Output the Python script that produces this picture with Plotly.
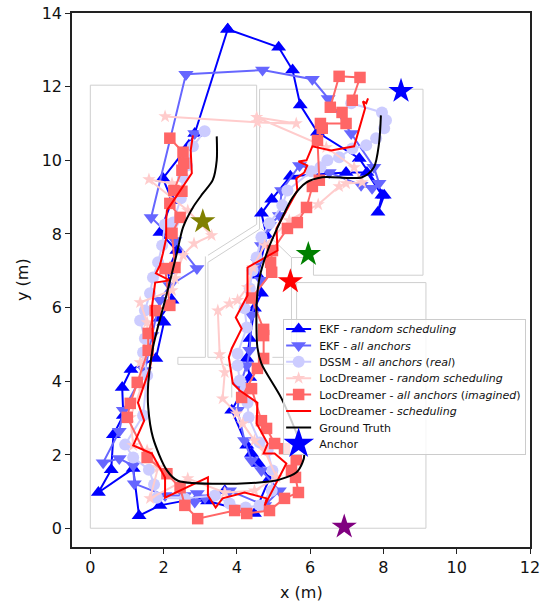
import plotly.graph_objects as go

ekf_random = [(3.75,13.56),(2.85,10.73),(2.69,10.41),(1.98,9.51),(2.23,8.91),(1.90,8.04),(2.36,7.55),(2.12,7.01),(2.23,6.20),(1.90,5.71),(2.01,5.60),(1.79,4.62),(1.11,4.32),(0.87,3.83),(0.90,3.07),(0.63,2.55),(0.57,1.60),(0.22,0.98),(1.17,1.63),(1.33,0.35),(1.90,0.63),(2.91,0.82),(3.67,1.03),(3.20,0.75),(4.48,0.41),(4.89,1.36),(4.59,1.77),(4.40,2.04),(4.27,2.26),(3.86,3.21),(4.35,4.10),(4.27,4.62),(4.35,5.16),(4.48,5.98),(4.67,6.39),(4.57,6.88),(4.81,7.96),(4.67,8.56),(4.95,8.94),(5.46,9.57),(6.98,9.67),(7.55,9.67),(7.96,9.05),(7.85,8.59),(8.02,9.05),(7.34,10.05),(6.20,10.76),(5.73,11.50),(5.52,12.45),(5.14,13.07),(3.75,13.56)]
ekf_all = [(2.61,12.34),(4.70,12.45),(6.06,12.20),(6.49,11.68),(7.12,10.73),(7.74,9.81),(7.88,9.38),(7.69,9.24),(7.39,9.32),(6.52,9.67),(5.71,9.86),(5.22,9.18),(5.16,8.50),(4.89,8.23),(4.67,7.69),(4.57,7.23),(4.67,6.74),(4.40,5.79),(4.35,4.84),(4.27,4.43),(4.08,3.89),(4.02,3.21),(4.21,2.39),(4.40,1.85),(4.67,1.58),(5.16,1.03),(4.76,0.63),(3.80,1.03),(3.13,0.84),(2.92,0.95),(2.85,0.72),(2.58,0.90),(2.04,0.90),(1.20,1.22),(1.17,1.71),(0.79,1.90),(0.35,1.79),(0.79,2.64),(0.90,3.21),(1.49,4.29),(1.68,5.24),(1.90,6.20),(2.17,6.60),(2.91,7.06),(2.31,7.82),(1.66,8.45),(2.61,12.34)]
ekf_all_extra = [(2.85,10.73)]
dssm = [(3.12,10.79),(2.80,10.38),(2.64,9.86),(2.53,9.54),(2.47,8.97),(2.26,8.31),(2.04,8.26),(1.96,7.69),(1.85,7.23),(1.71,6.82),(1.63,6.39),(1.49,5.92),(1.36,5.65),(1.49,5.16),(1.44,4.78),(1.55,4.16),(1.44,3.07),(0.95,2.28),(1.17,1.93),(1.60,1.60),(1.74,1.20),(1.82,0.84),(2.58,0.82),(3.40,0.90),(3.80,0.68),(4.24,0.57),(4.62,0.63),(4.95,1.03),(4.97,1.58),(4.84,2.12),(4.62,2.34),(4.32,3.02),(4.29,3.42),(4.24,3.80),(4.08,4.02),(4.02,4.43),(4.02,4.75),(4.27,5.46),(4.21,5.98),(4.35,6.52),(4.43,7.01),(4.54,7.36),(4.67,7.91),(4.89,8.29),(5.24,8.78),(5.38,9.18),(6.03,9.70),(6.28,9.81),(6.47,10.00),(6.79,10.08),(7.15,10.32),(7.53,10.41),(7.80,10.60),(8.02,10.87),(8.07,11.09),(7.96,11.30),(7.12,11.55)]
loc_random = [(2.23,9.37),(1.60,9.48),(2.66,8.64),(3.31,7.96),(2.83,7.74),(2.53,7.42),(2.31,6.79),(2.23,6.47),(1.36,6.14),(1.55,5.60),(1.58,4.84),(1.36,4.51),(1.41,3.89),(1.09,3.02),(1.17,2.26),(1.55,2.12),(1.85,1.66),(1.63,0.82),(2.66,1.36),(3.67,0.98),(4.48,1.03),(5.08,1.39),(4.76,2.12),(4.48,2.39),(4.16,2.85),(3.99,3.12),(3.61,3.53),(3.67,4.24),(3.53,4.73),(3.48,5.92),(3.80,6.11),(4.02,6.20),(4.29,6.55),(4.43,7.09),(4.76,7.69),(5.43,8.37),(6.22,8.80),(6.79,9.29),(6.98,9.37),(7.42,9.40),(7.20,9.81),(6.44,10.35),(4.54,11.17),(5.62,11.00),(4.56,11.03),(2.04,11.19)]
loc_all = [(2.17,10.60),(2.53,10.22),(2.55,9.92),(2.50,9.73),(2.28,9.18),(2.50,9.16),(2.17,8.83),(2.45,8.45),(2.23,8.02),(2.31,7.09),(2.04,7.06),(2.17,6.06),(1.77,5.92),(1.58,5.30),(1.58,4.84),(1.28,3.97),(1.09,3.40),(1.01,3.02),(1.55,1.93),(2.09,1.49),(2.45,1.11),(2.58,0.63),(2.93,0.27),(3.94,0.49),(4.27,0.41),(4.89,0.49),(5.30,0.82),(5.68,0.98),(5.60,1.39),(5.49,1.58),(5.62,1.87),(5.30,2.17),(5.03,2.31),(4.81,2.72),(4.67,2.93),(4.40,3.80),(4.13,3.56),(4.56,4.35),(4.73,4.62),(4.73,5.24),(4.73,5.41),(4.40,6.26),(4.95,6.96),(4.92,7.23),(4.97,7.55),(5.38,8.15),(5.65,8.31),(5.90,8.72),(6.06,9.29),(6.25,9.46),(6.20,10.54),(6.33,10.87),(6.28,11.00),(6.98,11.00),(6.87,11.30),(6.55,11.44),(6.79,12.28),(7.36,12.25),(7.15,11.63)]
loc_sched = [(2.80,10.68),(2.74,10.27),(2.77,9.65),(2.31,8.99),(2.09,8.64),(2.07,8.37),(2.07,7.88),(1.98,7.47),(1.90,7.15),(1.79,6.93),(2.17,6.74),(1.77,6.68),(1.68,6.00),(1.71,4.97),(1.63,4.37),(1.30,3.42),(1.47,2.93),(1.17,2.26),(1.68,2.04),(2.04,1.39),(2.04,0.84),(3.21,1.39),(3.21,0.90),(3.42,0.57),(3.61,0.82),(4.21,0.98),(4.81,0.82),(4.76,0.63),(5.35,1.77),(5.03,2.04),(4.73,2.04),(4.84,2.31),(4.54,2.85),(4.56,3.42),(4.08,3.75),(3.89,3.94),(3.78,4.65),(3.86,4.89),(4.13,5.43),(3.97,5.73),(4.29,6.33),(4.29,7.09),(5.11,7.55),(5.08,8.15),(5.65,9.18),(5.62,9.51),(5.84,9.67),(5.92,9.86),(5.68,9.97),(5.90,10.00),(6.06,10.38),(6.57,10.27),(7.20,10.38),(7.50,11.41),(7.44,11.60),(7.53,11.55),(7.58,11.68)]
ground_truth = [(3.45,10.65),(3.45,10.00),(3.34,9.46),(3.07,9.10),(2.80,8.72),(2.53,8.18),(2.36,7.47),(2.09,6.39),(1.71,4.92),(1.58,3.94),(1.58,3.29),(1.71,2.47),(2.09,1.58),(2.39,1.30),(3.99,1.22),(4.89,1.28),(5.16,1.33),(5.62,1.52),(5.79,1.79),(5.84,2.04),(5.71,2.39),(5.22,3.53),(4.67,4.48),(4.56,4.92),(4.54,6.11),(4.62,6.82),(4.84,7.55),(5.24,8.45),(5.52,8.99),(5.90,9.40),(6.33,9.54),(7.42,9.54),(7.74,9.81),(7.88,10.46),(7.93,11.22)]
anchors = [(8.48,11.88),(5.46,6.71),(5.95,7.45),(3.07,8.34),(6.93,0.05)]
anchor_colors = ["blue","red","green","olive","purple"]
walls = [
    [(3.21,7.42),(4.54,8.26),(4.54,12.04),(0,12.04),(0,0.01),(9.16,0.01),(9.16,6.68),(5.63,6.68),(5.63,4.97)],
    [(3.14,7.39),(3.14,4.65),(2.39,4.65),(2.39,4.46),(3.67,4.46),(3.86,4.38),(3.86,3.56)],
    [(3.21,7.23),(4.62,8.13),(4.62,11.93),(9.08,11.93),(9.08,6.88),(6.09,6.88),(6.09,7.36),(5.49,7.36),(4.67,8.15)],
    [(5.49,7.36),(5.49,4.97)],
    [(3.21,7.23),(3.21,4.65),(3.67,4.65)],
    [(4.97,4.65),(5.57,4.65)],
    [(3.67,4.46),(5.57,4.46)],
]
def xs(p): return [a for a,_ in p]
def ys(p): return [b for _,b in p]

fig = go.Figure()
for w in walls:
    fig.add_trace(go.Scatter(x=xs(w),y=ys(w),mode="lines",line=dict(color="#cfcfcf",width=1),showlegend=False,hoverinfo="skip"))

def series(p,name,color,symbol,size,lw=2):
    fig.add_trace(go.Scatter(x=xs(p),y=ys(p),mode="lines+markers",name=name,
        line=dict(color=color,width=lw),marker=dict(symbol=symbol,size=size,color=color)))

series(ekf_random,"EKF - <i>random scheduling</i>","#0000ff","triangle-up",13)
series(ekf_all,"EKF - <i>all anchors</i>","#6666ff","triangle-down",13)
fig.add_trace(go.Scatter(x=xs(ekf_all_extra),y=ys(ekf_all_extra),mode="markers",showlegend=False,marker=dict(symbol="triangle-down",size=13,color="#6666ff")))
series(dssm,"DSSM - <i>all anchors</i> (<i>real</i>)","#ccccff","circle",12)
series(loc_random,"LocDreamer - <i>random scheduling</i>","#ffcccc","star",10)
series(loc_all,"LocDreamer - <i>all anchors</i> (<i>imagined</i>)","#ff6666","square",11.5)
fig.add_trace(go.Scatter(x=xs(loc_sched),y=ys(loc_sched),mode="lines",name="LocDreamer - <i>scheduling</i>",line=dict(color="#ff0000",width=2)))
fig.add_trace(go.Scatter(x=xs(ground_truth),y=ys(ground_truth),mode="lines",name="Ground Truth",line=dict(color="black",width=2,shape="spline",smoothing=0.8)))
for i,(a,c) in enumerate(zip(anchors,anchor_colors)):
    fig.add_trace(go.Scatter(x=[a[0]],y=[a[1]],mode="markers",name="Anchor",showlegend=(i==0),marker=dict(symbol="star",size=19,color=c)))

axis = dict(showgrid=False,zeroline=False,showline=True,linecolor="#222",linewidth=1.5,mirror=True,
            ticks="outside",ticklen=5,tickwidth=1.3,tickcolor="#222",automargin=False,
            tickfont=dict(size=16,color="#111"),dtick=2)
fig.update_layout(
    width=543,height=608,autosize=False,
    margin=dict(l=72,r=11,t=13,b=61),
    paper_bgcolor="white",plot_bgcolor="white",
    font=dict(family="DejaVu Sans",color="#111"),
    xaxis=dict(axis,range=[-0.5,12]),
    yaxis=dict(axis,range=[-0.5,14]),
    annotations=[
        dict(text="x (m)",xref="paper",yref="paper",x=0.5,y=0,yshift=-45,showarrow=False,xanchor="center",yanchor="middle",font=dict(size=16,color="#111")),
        dict(text="y (m)",xref="paper",yref="paper",x=0,y=0.5,xshift=-50,showarrow=False,textangle=-90,xanchor="center",yanchor="middle",font=dict(size=16,color="#111")),
    ],
    legend=dict(x=0.461,y=0.427,xanchor="left",yanchor="top",bgcolor="rgba(255,255,255,0.8)",
                bordercolor="#cccccc",borderwidth=1,font=dict(size=11),tracegroupgap=0,itemwidth=30),
)
post = """
document.body.style.margin='0';
var leg=document.querySelector('.legend');
var tr=leg.querySelectorAll('.traces');
tr.forEach(function(t,i){
  t.setAttribute('transform','translate(1,'+(10+16.4*i)+')');
  var txt=t.querySelector('.legendtext'); if(txt) txt.setAttribute('x','35');
  t.querySelectorAll('.legendlines path').forEach(function(p){p.setAttribute('d','M2,0h25');});
  t.querySelectorAll('.legendsymbols path').forEach(function(p){
    p.setAttribute('transform','translate(14.5,0)'+(i==7?' scale(1.45)':''));});
});
leg.querySelectorAll('.bg').forEach(function(b){b.setAttribute('height','135');b.setAttribute('width','242');});
"""
fig.write_html("out.html",post_script=post,config={"displayModeBar":False})
